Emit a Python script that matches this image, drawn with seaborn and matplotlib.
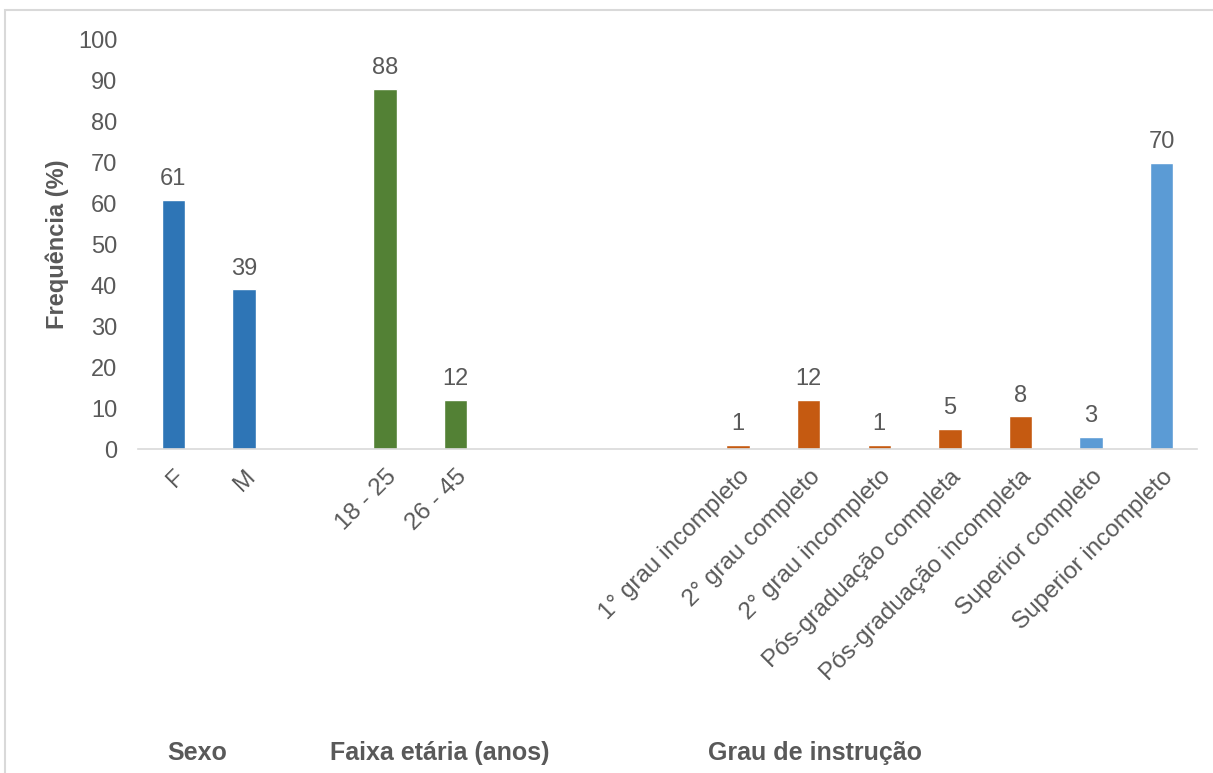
import pandas as pd
import matplotlib.pyplot as plt
import seaborn as sns
from matplotlib.patches import Rectangle

# slots, with empty spacer slots between the groups
order = ['F', 'M', 'gap1', '18 - 25', '26 - 45', 'gap2', 'gap3', 'gap4',
         '1° grau incompleto', '2° grau completo', '2° grau incompleto',
         'Pós-graduação completa', 'Pós-graduação incompleta',
         'Superior completo', 'Superior incompleto']
categories = ['F', 'M', '18 - 25', '26 - 45',
              '1° grau incompleto', '2° grau completo', '2° grau incompleto',
              'Pós-graduação completa', 'Pós-graduação incompleta',
              'Superior completo', 'Superior incompleto']
values = [61, 39, 88, 12, 1, 12, 1, 5, 8, 3, 70]
colors = ['#2E75B6', '#2E75B6', '#538135', '#538135',
          '#C55A11', '#C55A11', '#C55A11', '#C55A11', '#C55A11',
          '#5B9BD5', '#5B9BD5']
group_labels = ['Sexo', 'Faixa etária (anos)', 'Grau de instrução']

df = pd.DataFrame({'cat': categories, 'freq': values})

sns.set_style('white')
plt.rcParams['font.family'] = ['Liberation Sans', 'DejaVu Sans']
text_color = '#595959'

fig = plt.figure(figsize=(12.13, 7.73), dpi=100)
ax = fig.add_axes([138 / 1213, 1 - 449 / 773, (1197 - 138) / 1213, (449 - 40) / 773])

sns.barplot(data=df, x='cat', y='freq', order=order, hue='cat',
            palette=dict(zip(categories, colors)), width=0.33,
            legend=False, ax=ax, saturation=1)

for cont in ax.containers:
    ax.bar_label(cont, fmt='%g', padding=7, fontsize=17, color=text_color)

ax.set_ylim(0, 100)
ax.set_xlim(-0.5, 14.5)
ax.set_yticks(range(0, 101, 10))
ax.tick_params(axis='y', labelsize=17, labelcolor=text_color, length=0, pad=15)
ticklabels = ['' if c.startswith('gap') else c for c in order]
ax.set_xticks(range(len(order)))
ax.set_xticklabels(ticklabels, rotation=45, ha='right', rotation_mode='anchor',
                   fontsize=17.5, color=text_color)
ax.tick_params(axis='x', length=0, pad=12)
ax.set_xlabel('')
ax.set_ylabel('Frequência (%)', fontsize=17, fontweight='bold', color=text_color, labelpad=6)

for side in ['top', 'right', 'left']:
    ax.spines[side].set_visible(False)
ax.spines['bottom'].set_color('#D9D9D9')
ax.spines['bottom'].set_linewidth(1.2)

for label, xpix in zip(group_labels, [197, 440, 815]):
    fig.text(xpix / 1213, 1 - 753 / 773, label, ha='center', va='center',
             fontsize=18, fontweight='bold', color=text_color)

fig.patches.append(Rectangle((5 / 1213, -0.1), 1.2, 1.1 - 10 / 773, transform=fig.transFigure,
                             fill=False, edgecolor='#D9D9D9', linewidth=1.5))

fig.savefig('out.png', dpi=100)
